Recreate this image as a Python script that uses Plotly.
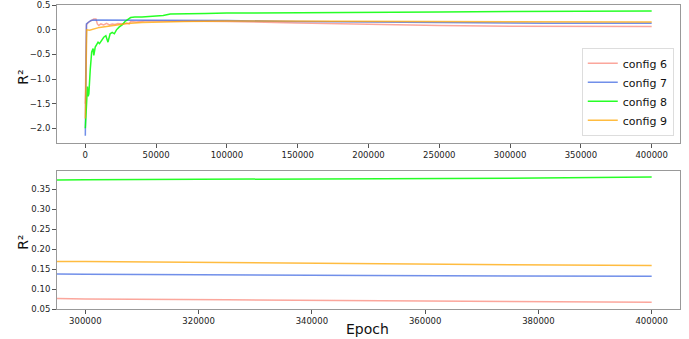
import plotly.graph_objects as go
from plotly.subplots import make_subplots

# ---- data ----
epoch_c6 = [0, 300, 800, 2000, 4000, 6000, 7500, 8500, 9500, 11000, 13000, 15000, 17000, 19000,
            21000, 23000, 26000, 29000, 31000, 32000, 36000, 42000, 50000, 70000, 100000,
            150000, 200000, 250000, 300000, 325000, 350000, 375000, 400000]
r2_c6 = [-1.5, 0.02, 0.1, 0.15, 0.19, 0.22, 0.22, 0.12, 0.09, 0.12, 0.1, 0.13, 0.1, 0.12,
         0.11, 0.13, 0.12, 0.14, 0.12, 0.17, 0.16, 0.18, 0.18, 0.18, 0.17,
         0.14, 0.11, 0.09, 0.075, 0.073, 0.071, 0.069, 0.067]

epoch_c7 = [0, 300, 800, 2000, 4000, 6000, 10000, 20000, 50000, 100000, 150000, 200000,
            250000, 300000, 325000, 350000, 375000, 400000]
r2_c7 = [-2.15, 0.05, 0.12, 0.15, 0.19, 0.2, 0.2, 0.2, 0.2, 0.19, 0.17, 0.155,
         0.145, 0.137, 0.135, 0.134, 0.133, 0.132]

epoch_c8 = [0, 300, 1000, 1500, 2000, 2500, 3500, 4500, 5500, 6000, 7000, 8000, 9000, 10000,
            11500, 13000, 14500, 16000, 17500, 19000, 20500, 22000, 24000, 26000, 28000,
            30000, 32000, 35000, 40000, 50000, 55000, 60000, 70000, 85000, 100000, 120000,
            150000, 200000, 250000, 300000, 325000, 350000, 375000, 400000]
r2_c8 = [-2.0, -1.8, -1.2, -1.15, -1.35, -1.3, -0.8, -0.45, -0.38, -0.52, -0.35, -0.3, -0.25,
         -0.28, -0.2, -0.15, -0.12, -0.25, -0.08, -0.05, -0.08, 0.0, 0.06, 0.1, 0.17,
         0.22, 0.25, 0.26, 0.26, 0.28, 0.29, 0.32, 0.33, 0.33, 0.34, 0.345,
         0.35, 0.36, 0.365, 0.374, 0.375, 0.377, 0.378, 0.381]

epoch_c9 = [0, 500, 1000, 3000, 6000, 10000, 15000, 20000, 25000, 30000, 40000, 50000,
            70000, 100000, 150000, 200000, 250000, 300000, 325000, 350000, 375000, 400000]
r2_c9 = [-1.8, -0.5, 0.0, -0.01, 0.02, 0.05, 0.07, 0.09, 0.12, 0.13, 0.15, 0.16,
         0.17, 0.18, 0.176, 0.173, 0.171, 0.169, 0.166, 0.164, 0.161, 0.159]

names = ["config 6", "config 7", "config 8", "config 9"]
colors = ["rgba(250,128,114,0.7)", "rgba(65,105,225,0.75)", "rgba(0,255,0,0.85)", "rgba(255,165,0,0.75)"]
series = [(epoch_c6, r2_c6), (epoch_c7, r2_c7), (epoch_c8, r2_c8), (epoch_c9, r2_c9)]

top_xticks = [0, 50000, 100000, 150000, 200000, 250000, 300000, 350000, 400000]
top_yticks = [-2.0, -1.5, -1.0, -0.5, 0.0, 0.5]
top_ylabels = ["\u22122.0", "\u22121.5", "\u22121.0", "\u22120.5", "0.0", "0.5"]
bot_xticks = [300000, 320000, 340000, 360000, 380000, 400000]
bot_yticks = [0.05, 0.10, 0.15, 0.20, 0.25, 0.30, 0.35]

fig = make_subplots(rows=2, cols=1, vertical_spacing=0.09)

for (x, y), n, c in zip(series, names, colors):
    fig.add_trace(go.Scatter(x=x, y=y, mode="lines", name=n,
                             line=dict(color=c, width=1.5)), row=1, col=1)
for (x, y), n, c in zip(series, names, colors):
    fig.add_trace(go.Scatter(x=x, y=y, mode="lines", name=n, showlegend=False,
                             line=dict(color=c, width=1.5)), row=2, col=1)

axis_common = dict(showgrid=False, zeroline=False, showline=True, mirror=True,
                   linecolor="#999", linewidth=1, ticks="outside", ticklen=4,
                   tickcolor="#555", automargin=False,
                   tickfont=dict(family="DejaVu Sans", size=8.5, color="#222"))

fig.update_xaxes(**axis_common)
fig.update_yaxes(**axis_common)

title_font = dict(family="DejaVu Sans", size=14, color="#111")

fig.update_layout(
    xaxis=dict(domain=[0, 1], range=[-20000, 420000], tickvals=top_xticks,
               ticktext=[str(v) for v in top_xticks]),
    yaxis=dict(domain=[0.546, 1], range=[-2.3, 0.505], tickvals=top_yticks, ticktext=top_ylabels),
    xaxis2=dict(domain=[0, 1], range=[295000, 405000], tickvals=bot_xticks,
                ticktext=[str(v) for v in bot_xticks]),
    yaxis2=dict(domain=[0, 0.454], range=[0.05, 0.396], tickvals=bot_yticks,
                ticktext=["%.2f" % v for v in bot_yticks]),
    width=689, height=339,
    margin=dict(l=57, r=9, t=5, b=30),
    paper_bgcolor="white", plot_bgcolor="white",
    showlegend=True,
    legend=dict(x=0.99, y=0.57, xanchor="right", yanchor="bottom",
                bgcolor="rgba(255,255,255,0.9)", bordercolor="#ddd", borderwidth=1,
                font=dict(family="DejaVu Sans", size=11, color="#111"),
                tracegroupgap=0, itemwidth=30),
    annotations=[
        dict(text="R\u00b2", xref="paper", yref="paper", x=-0.055, y=0.763,
             xanchor="center", yanchor="middle", textangle=-90, showarrow=False, font=title_font),
        dict(text="R\u00b2", xref="paper", yref="paper", x=-0.055, y=0.220,
             xanchor="center", yanchor="middle", textangle=-90, showarrow=False, font=title_font),
        dict(text="Epoch", xref="paper", yref="paper", x=0.499, y=-0.066,
             xanchor="center", yanchor="middle", showarrow=False, font=title_font),
    ],
)

fig.write_html("out.html", post_script="document.body.style.margin='0';",
               config={"displayModeBar": False})
